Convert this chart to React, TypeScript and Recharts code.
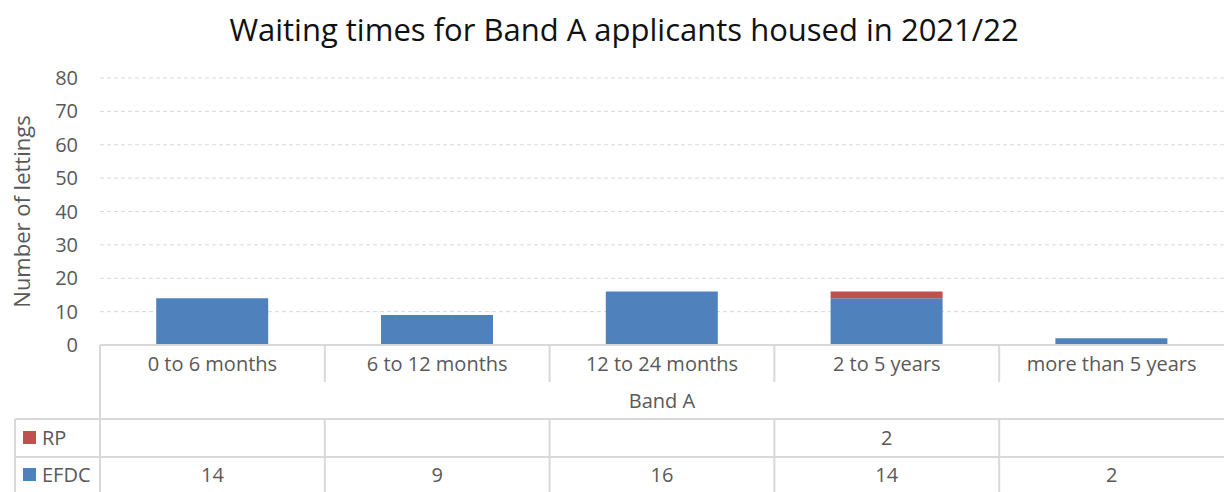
import { BarChart, Bar, XAxis, YAxis, CartesianGrid } from 'recharts';

const categories = ['0 to 6 months', '6 to 12 months', '12 to 24 months', '2 to 5 years', 'more than 5 years'];
const efdc = [14, 9, 16, 14, 2];
const rp: (number | null)[] = [null, null, null, 2, null];
const yTicks = [0, 10, 20, 30, 40, 50, 60, 70, 80];
const groupLabel = 'Band A';

const W = 1224;
const H = 492;
const LEFT = 100;
const TOP = 78;
const BOTTOM = 345;
const FONT = '"Open Sans", "Noto Sans", sans-serif';
const GREY = '#595959';
const LINE = '#d9d9d9';
const BLUE = '#4f81bd';
const RED = '#c0504d';
const FS = 20;

const data = categories.map((c, i) => ({ name: c, EFDC: efdc[i], RP: rp[i] }));

const cellW = (W - LEFT) / categories.length;

function TableTick(props: any) {
  const { x, payload } = props;
  const i = payload.index ?? props.index;
  const right = x + cellW / 2;
  const last = i === categories.length - 1;
  return (
    <g>
      <text x={x} y={363} textAnchor="middle" dominantBaseline="central" fontSize={FS} fill={GREY} fontFamily={FONT}>
        {payload.value}
      </text>
      {!last && <line x1={right} y1={BOTTOM} x2={right} y2={382} stroke={LINE} strokeWidth={2} />}
      {!last && <line x1={right} y1={419} x2={right} y2={H} stroke={LINE} strokeWidth={2} />}
      <text x={x} y={437} textAnchor="middle" dominantBaseline="central" fontSize={FS} fill={GREY} fontFamily={FONT}>
        {rp[i] ?? ''}
      </text>
      <text x={x} y={474} textAnchor="middle" dominantBaseline="central" fontSize={FS} fill={GREY} fontFamily={FONT}>
        {efdc[i] ?? ''}
      </text>
      {i === 0 && (
        <g>
          <line x1={LEFT} y1={BOTTOM} x2={LEFT} y2={H} stroke={LINE} strokeWidth={2} />
          <line x1={15} y1={419} x2={15} y2={H} stroke={LINE} strokeWidth={2} />
          <line x1={15} y1={419} x2={W} y2={419} stroke={LINE} strokeWidth={2} />
          <line x1={15} y1={457} x2={W} y2={457} stroke={LINE} strokeWidth={2} />
          <text x={(LEFT + W) / 2} y={400} textAnchor="middle" dominantBaseline="central" fontSize={FS} fill={GREY} fontFamily={FONT}>
            {groupLabel}
          </text>
          <rect x={23} y={431} width={13} height={13} fill={RED} />
          <text x={42} y={437} dominantBaseline="central" fontSize={FS} fill={GREY} fontFamily={FONT}>RP</text>
          <rect x={23} y={468} width={13} height={13} fill={BLUE} />
          <text x={42} y={474} dominantBaseline="central" fontSize={FS} fill={GREY} fontFamily={FONT}>EFDC</text>
        </g>
      )}
    </g>
  );
}

export default function App() {
  return (
    <div style={{ position: 'absolute', left: 0, top: 0, width: W, height: H, background: '#fff' }}>
      <div
        style={{
          position: 'absolute',
          left: 12,
          top: 7,
          width: W,
          textAlign: 'center',
          fontFamily: FONT,
          fontSize: 31,
          lineHeight: '44px',
          color: '#111',
        }}
      >
        Waiting times for Band A applicants housed in 2021/22
      </div>
      <BarChart
        width={W}
        height={H}
        data={data}
        margin={{ top: TOP, right: 0, left: 0, bottom: 0 }}
        barCategoryGap="25%"
      >
        <CartesianGrid vertical={false} stroke={LINE} strokeDasharray="4 3" />
        <XAxis
          dataKey="name"
          axisLine={{ stroke: LINE, strokeWidth: 2 }}
          tickLine={false}
          tick={<TableTick />}
          interval={0}
          height={H - BOTTOM}
        />
        <YAxis
          width={LEFT}
          domain={[0, 80]}
          ticks={yTicks}
          axisLine={false}
          tickLine={false}
          tickSize={0}
          tickMargin={22}
          tick={{ fill: GREY, fontSize: FS, fontFamily: FONT }}
          label={{
            value: 'Number of lettings',
            angle: -90,
            position: 'insideLeft',
            dx: 17,
            style: { textAnchor: 'middle', fill: GREY, fontSize: 22, fontFamily: FONT },
          }}
        />
        <Bar dataKey="EFDC" stackId="a" fill={BLUE} isAnimationActive={false} />
        <Bar dataKey="RP" stackId="a" fill={RED} isAnimationActive={false} />
      </BarChart>
    </div>
  );
}
